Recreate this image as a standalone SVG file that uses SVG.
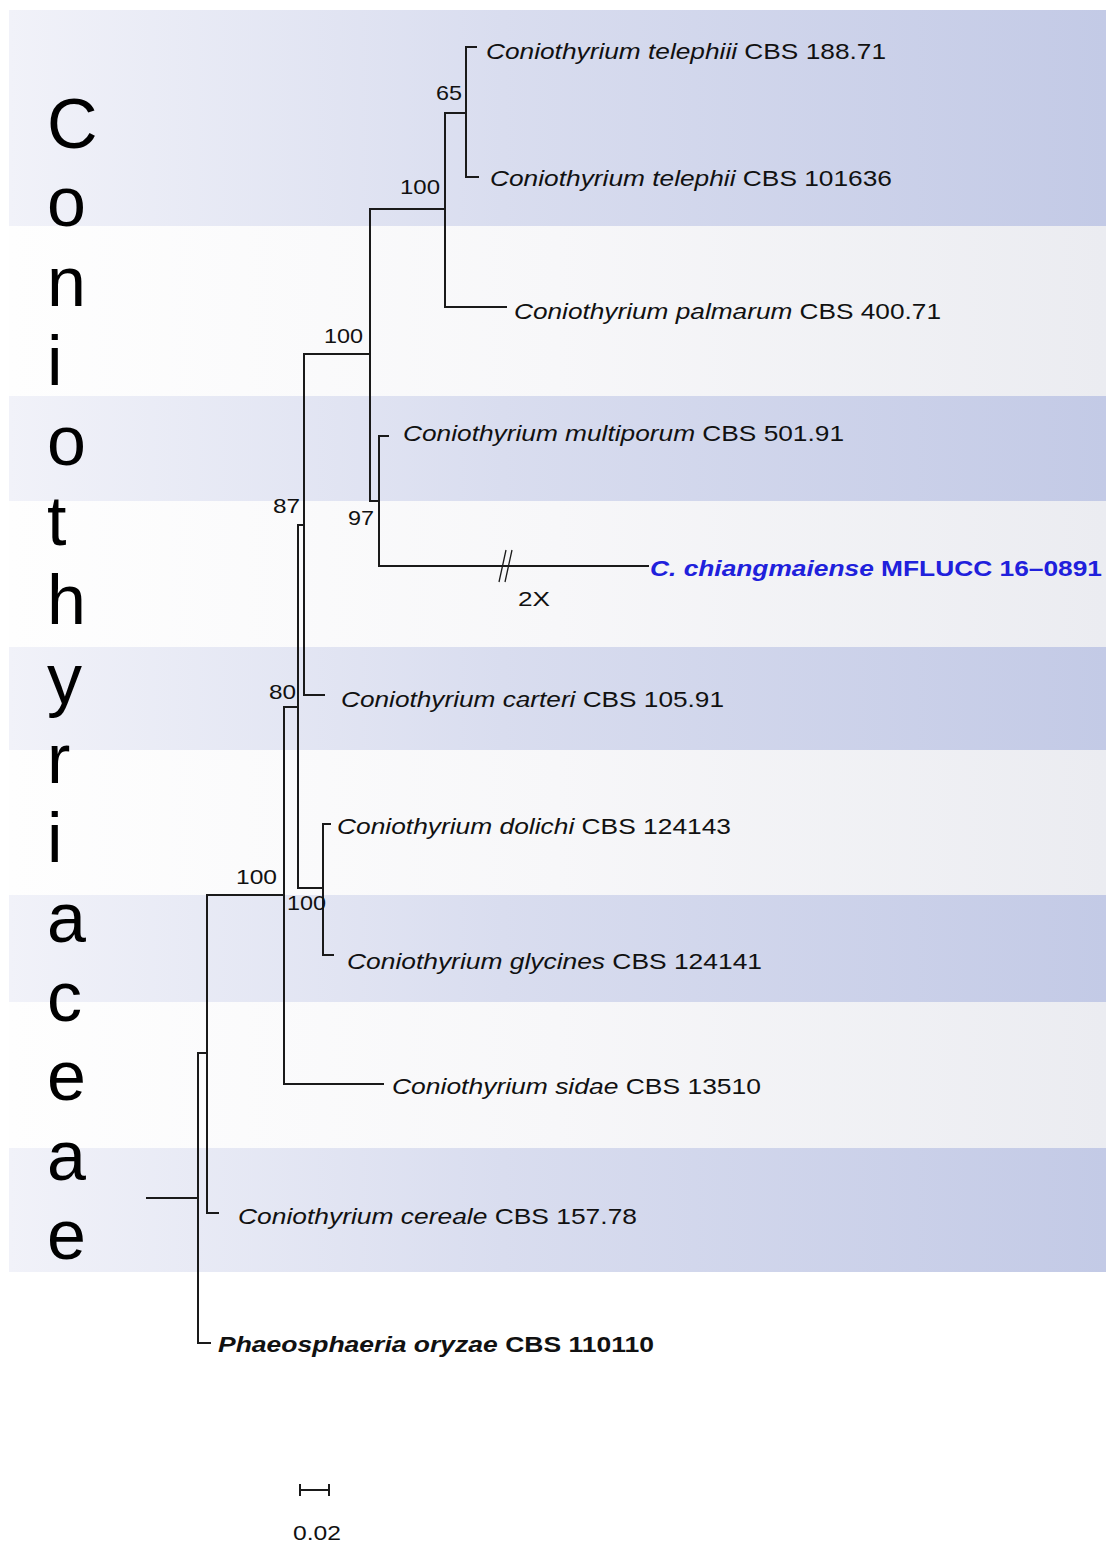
<svg xmlns="http://www.w3.org/2000/svg" width="1107" height="1544" viewBox="0 0 1107 1544">
<defs>
<linearGradient id="gBlue" x1="0" y1="0" x2="1" y2="0">
<stop offset="0" stop-color="#f1f2f9"/>
<stop offset="0.45" stop-color="#d9ddef"/>
<stop offset="1" stop-color="#c3cae6"/>
</linearGradient>
<linearGradient id="gLight" x1="0" y1="0" x2="1" y2="0">
<stop offset="0" stop-color="#fefefe"/>
<stop offset="0.5" stop-color="#f7f7f9"/>
<stop offset="1" stop-color="#ebecf1"/>
</linearGradient>
<style>
.blue{fill:url(#gBlue)}
.light{fill:url(#gLight)}
.br{fill:none;stroke:#1a1a1a;stroke-width:2;stroke-linecap:square}
.lab{font-family:"Liberation Sans",Arial,sans-serif;font-size:22px;fill:#111}
.sp{font-style:italic}
.bs{font-family:"Liberation Sans",Arial,sans-serif;font-size:21px;fill:#111}
.big{font-family:"Liberation Sans",Arial,sans-serif;font-size:70px;fill:#000}
</style>
</defs>
<rect width="1107" height="1544" fill="#ffffff"/>
<g id="bands">
<rect class="blue" x="9" y="10" width="1097" height="216"/>
<rect class="light" x="9" y="226" width="1097" height="170"/>
<rect class="blue" x="9" y="396" width="1097" height="105"/>
<rect class="light" x="9" y="501" width="1097" height="146"/>
<rect class="blue" x="9" y="647" width="1097" height="103"/>
<rect class="light" x="9" y="750" width="1097" height="145"/>
<rect class="blue" x="9" y="895" width="1097" height="107"/>
<rect class="light" x="9" y="1002" width="1097" height="146"/>
<rect class="blue" x="9" y="1148" width="1097" height="124"/>
</g>
<g id="family-label">
<text class="big" x="47" y="148">C</text>
<text class="big" x="47" y="226">o</text>
<text class="big" x="47" y="306">n</text>
<text class="big" x="47" y="385">i</text>
<text class="big" x="47" y="465">o</text>
<text class="big" x="47" y="545">t</text>
<text class="big" x="47" y="624">h</text>
<text class="big" x="47" y="703">y</text>
<text class="big" x="47" y="783">r</text>
<text class="big" x="47" y="862">i</text>
<text class="big" x="47" y="942">a</text>
<text class="big" x="47" y="1021">c</text>
<text class="big" x="47" y="1100">e</text>
<text class="big" x="47" y="1180">a</text>
<text class="big" x="47" y="1259">e</text>
</g>
<g id="connectors">
<path class="br" d="M147,1198 H198 M198,1053 V1343 H210 M198,1053 H207 M207,895 V1213 H218"/>
<path class="br" d="M207,895 H284 M284,707 V1084 H383"/>
<path class="br" d="M284,707 H298 M298,525 V888"/>
<path class="br" d="M298,525 H304 M304,354 V695 H324"/>
<path class="br" d="M298,888 H323 M323,824 V955 M323,824 H330 M323,955 H333"/>
<path class="br" d="M304,354 H370 M370,209 V501"/>
<path class="br" d="M370,209 H445 M445,113 V307 H506"/>
<path class="br" d="M445,113 H466 M466,47 V177 M466,47 H476 M466,177 H478"/>
<path class="br" d="M370,501 H379 M379,436 V566 M379,436 H388 M379,566 H648"/>
<path d="M506,550 L499,582 M512,550 L505,582" stroke="#1a1a1a" stroke-width="1.3" fill="none"/>
<text class="bs" x="518" y="606" textLength="32" lengthAdjust="spacingAndGlyphs">2X</text>
</g>
<g id="support">
<text class="bs" x="436" y="100" textLength="26" lengthAdjust="spacingAndGlyphs">65</text>
<text class="bs" x="400" y="194" textLength="40" lengthAdjust="spacingAndGlyphs">100</text>
<text class="bs" x="324" y="343" textLength="39" lengthAdjust="spacingAndGlyphs">100</text>
<text class="bs" x="273" y="513" textLength="27" lengthAdjust="spacingAndGlyphs">87</text>
<text class="bs" x="348" y="525" textLength="26" lengthAdjust="spacingAndGlyphs">97</text>
<text class="bs" x="269" y="699" textLength="27" lengthAdjust="spacingAndGlyphs">80</text>
<text class="bs" x="236" y="884" textLength="41" lengthAdjust="spacingAndGlyphs">100</text>
<text class="bs" x="287" y="910" textLength="39" lengthAdjust="spacingAndGlyphs">100</text>
</g>
<g id="taxon-telephiii"><text class="lab" x="486" y="59" textLength="400" lengthAdjust="spacingAndGlyphs"><tspan class="sp">Coniothyrium telephiii</tspan> CBS 188.71</text></g>
<g id="taxon-telephii"><text class="lab" x="490" y="186" textLength="402" lengthAdjust="spacingAndGlyphs"><tspan class="sp">Coniothyrium telephii</tspan> CBS 101636</text></g>
<g id="taxon-palmarum"><text class="lab" x="514" y="319" textLength="427" lengthAdjust="spacingAndGlyphs"><tspan class="sp">Coniothyrium palmarum</tspan> CBS 400.71</text></g>
<g id="taxon-multiporum"><text class="lab" x="403" y="441" textLength="441" lengthAdjust="spacingAndGlyphs"><tspan class="sp">Coniothyrium multiporum</tspan> CBS 501.91</text></g>
<g id="taxon-chiangmaiense"><text class="lab" x="650" y="576" textLength="452" lengthAdjust="spacingAndGlyphs" style="fill:#2020dc;font-weight:bold"><tspan class="sp">C. chiangmaiense</tspan> MFLUCC 16–0891</text></g>
<g id="taxon-carteri"><text class="lab" x="341" y="707" textLength="383" lengthAdjust="spacingAndGlyphs"><tspan class="sp">Coniothyrium carteri</tspan> CBS 105.91</text></g>
<g id="taxon-dolichi"><text class="lab" x="337" y="834" textLength="394" lengthAdjust="spacingAndGlyphs"><tspan class="sp">Coniothyrium dolichi</tspan> CBS 124143</text></g>
<g id="taxon-glycines"><text class="lab" x="347" y="969" textLength="415" lengthAdjust="spacingAndGlyphs"><tspan class="sp">Coniothyrium glycines</tspan> CBS 124141</text></g>
<g id="taxon-sidae"><text class="lab" x="392" y="1094" textLength="369" lengthAdjust="spacingAndGlyphs"><tspan class="sp">Coniothyrium sidae</tspan> CBS 13510</text></g>
<g id="taxon-cereale"><text class="lab" x="238" y="1224" textLength="399" lengthAdjust="spacingAndGlyphs"><tspan class="sp">Coniothyrium cereale</tspan> CBS 157.78</text></g>
<g id="taxon-oryzae"><text class="lab" x="218" y="1352" textLength="436" lengthAdjust="spacingAndGlyphs" style="font-weight:bold"><tspan class="sp">Phaeosphaeria oryzae</tspan> CBS 110110</text></g>
<g id="scale-bar">
<path d="M300,1490 H329 M300,1484 V1496 M329,1484 V1496" stroke="#1a1a1a" stroke-width="2" fill="none"/>
<text class="bs" x="293" y="1540" textLength="48" lengthAdjust="spacingAndGlyphs">0.02</text>
</g>
</svg>
